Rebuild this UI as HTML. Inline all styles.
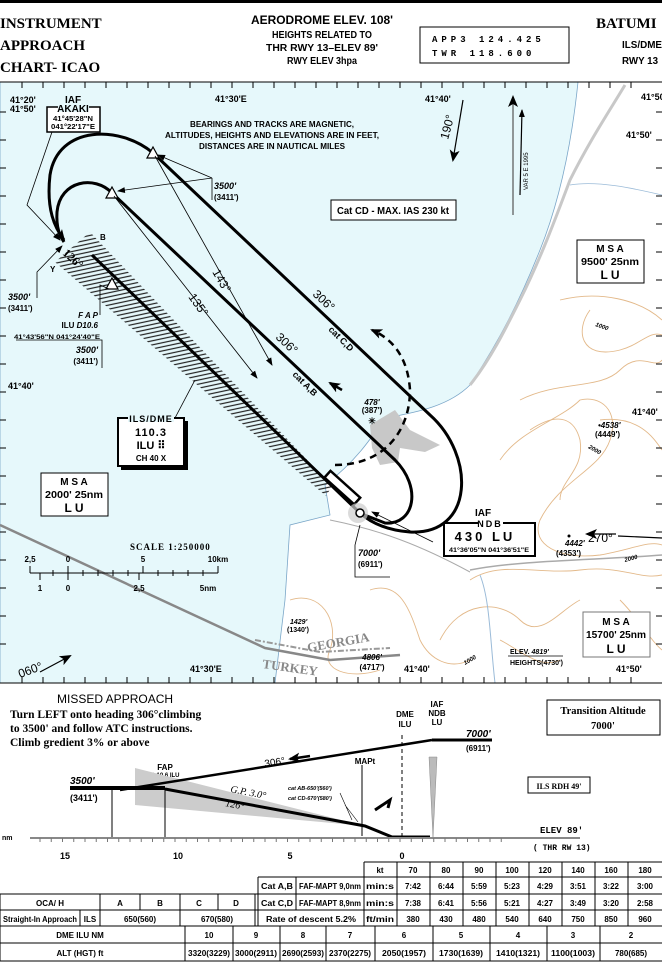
<!DOCTYPE html>
<html><head><meta charset="utf-8"><style>
html,body{margin:0;padding:0;background:#fff}
svg{display:block}
.n{font-family:"Liberation Sans Narrow","Liberation Sans",sans-serif;font-weight:bold}
.s{font-family:"Liberation Serif",serif;font-weight:bold}
.m{font-family:"Liberation Mono",monospace;font-weight:bold}
</style></head><body>
<svg width="662" height="962" viewBox="0 0 662 962" xmlns="http://www.w3.org/2000/svg">
<defs>
<pattern id="h" width="4" height="4" patternUnits="userSpaceOnUse" patternTransform="rotate(-12)">
<line x1="0" y1="1" x2="4" y2="1" stroke="#222" stroke-width="1.2"/></pattern>
<marker id="a" markerWidth="8" markerHeight="8" refX="7" refY="4" orient="auto" markerUnits="userSpaceOnUse"><path d="M0,1L8,4L0,7z" fill="#000"/></marker>
<marker id="ab" markerWidth="12" markerHeight="10" refX="10" refY="5" orient="auto" markerUnits="userSpaceOnUse"><path d="M0,0L12,5L0,10L3,5z" fill="#000"/></marker>
</defs>
<!-- header -->
<rect x="0" y="0" width="662" height="3" fill="#000"/>
<text class="s" x="0" y="28" font-size="15">INSTRUMENT</text>
<text class="s" x="0" y="50" font-size="15">APPROACH</text>
<text class="s" x="0" y="72" font-size="15">CHART- ICAO</text>
<text class="n" x="322" y="24" font-size="12" text-anchor="middle" textLength="142" lengthAdjust="spacingAndGlyphs">AERODROME ELEV. 108'</text>
<text class="n" x="322" y="38" font-size="10" text-anchor="middle" textLength="100" lengthAdjust="spacingAndGlyphs">HEIGHTS RELATED TO</text>
<text class="n" x="322" y="51" font-size="10" text-anchor="middle" textLength="112" lengthAdjust="spacingAndGlyphs">THR RWY 13–ELEV 89'</text>
<text class="n" x="322" y="64" font-size="10" text-anchor="middle" textLength="70" lengthAdjust="spacingAndGlyphs">RWY ELEV 3hpa</text>
<rect x="420" y="27" width="149" height="36" fill="none" stroke="#000"/>
<text class="m" x="432" y="42" font-size="9" letter-spacing="4">APP3  124.425</text>
<text class="m" x="432" y="56" font-size="9" letter-spacing="4">TWR   118.600</text>
<text class="s" x="596" y="28" font-size="15">BATUMI</text>
<text class="n" x="622" y="48" font-size="10" textLength="40" lengthAdjust="spacingAndGlyphs">ILS/DME</text>
<text class="n" x="622" y="64" font-size="10" textLength="36" lengthAdjust="spacingAndGlyphs">RWY 13</text>
<!-- map -->
<rect x="0" y="82" width="662" height="601" fill="#fff"/>
<path d="M0,82 L578,82 C572,140 560,200 540,250 C520,300 500,340 470,385 C450,405 420,412 385,418 C370,440 355,462 325,485 L330,515 L290,525 L285,600 L275,683 L0,683 Z" fill="#e6f8fb" stroke="#7aa6c8" stroke-width="0.8"/>
<!-- contours -->
<g fill="none" stroke="#e3b98a" stroke-width="0.9">
<path d="M560,300 C600,290 640,300 662,320"/>
<path d="M590,310 C575,330 580,360 620,350 C640,345 650,330 662,335"/>
<path d="M520,400 C560,380 600,390 620,370 C640,350 655,370 662,360"/>
<path d="M500,460 C520,430 560,420 580,400 C600,395 620,410 610,440 C600,470 560,480 540,520 C530,545 560,560 600,555 C630,550 650,540 662,545"/>
<path d="M530,430 C560,410 575,420 580,440 C585,470 560,480 560,500"/>
<path d="M600,420 C640,415 655,440 662,450"/>
<path d="M470,580 C500,560 540,575 580,570 C620,565 640,580 662,575"/>
<path d="M440,640 C460,600 500,600 520,620 C540,640 560,610 580,600"/>
<path d="M290,600 C320,590 340,620 330,650 C320,670 350,680 380,670"/>
<path d="M370,590 C400,580 410,610 420,640 C430,660 450,670 470,660"/>
<path d="M500,640 C520,650 540,670 560,660"/>
<path d="M620,600 C640,620 650,640 662,650"/>
</g>
<!-- rivers/roads -->
<path d="M470,570 C520,560 600,560 662,555" fill="none" stroke="#aaa" stroke-width="1.5"/>
<path d="M480,575 C490,600 490,640 495,683" fill="none" stroke="#9bbbd8" stroke-width="1"/>
<path d="M330,520 C380,530 420,545 470,572" fill="none" stroke="#aaa" stroke-width="1"/>
<path d="M625,85 C610,110 590,140 570,180 C555,220 540,260 520,300 C505,330 490,360 470,385" fill="none" stroke="#c8c8c8" stroke-width="3"/>
<path d="M570,185 C600,180 640,190 662,195" fill="none" stroke="#9bbbd8" stroke-width="0.8"/>
<!-- airport -->
<path d="M370,425 L395,410 L410,430 L440,445 L425,452 L400,448 L398,462 L380,465 L372,448 Z" fill="#c8c8c8"/>
<!-- border -->
<path d="M0,525 L265,648 L330,660 L400,655" fill="none" stroke="#888" stroke-width="2.5"/>
<path d="M255,640 L320,652 L390,648" fill="none" stroke="#999" stroke-width="2" stroke-dasharray="6,2,2,2"/>
<text class="s" x="308" y="652" font-size="13" fill="#888" transform="rotate(-10 308 652)">GEORGIA</text>
<text class="s" x="262" y="668" font-size="13" fill="#888" transform="rotate(8 262 668)">TURKEY</text>
<!-- map border ticks -->
<g stroke="#000" stroke-width="1">
<line x1="0" y1="82" x2="662" y2="82"/>
<line x1="0" y1="683" x2="662" y2="683"/>
<path d="M22,82v6m21,-6v6m21,-6v6m21,-6v6m21,-6v6m21,-6v6m21,-6v6m21,-6v6m21,-6v6m21,-6v6m21,-6v6m21,-6v6m21,-6v6m21,-6v6m21,-6v6m21,-6v6m21,-6v6m21,-6v6m21,-6v6m21,-6v6m21,-6v6m21,-6v6m21,-6v6m21,-6v6m21,-6v6m21,-6v6m21,-6v6m21,-6v6m21,-6v6m21,-6v6"/>
<path d="M22,683v-6m21,6v-6m21,6v-6m21,6v-6m21,6v-6m21,6v-6m21,6v-6m21,6v-6m21,6v-6m21,6v-6m21,6v-6m21,6v-6m21,6v-6m21,6v-6m21,6v-6m21,6v-6m21,6v-6m21,6v-6m21,6v-6m21,6v-6m21,6v-6m21,6v-6m21,6v-6m21,6v-6m21,6v-6m21,6v-6m21,6v-6m21,6v-6m21,6v-6m21,6v-6"/>
<path d="M0,112h6m-6,28h6m-6,28h6m-6,28h6m-6,28h6m-6,28h6m-6,28h6m-6,28h6m-6,28h6m-6,28h6m-6,28h6m-6,28h6m-6,28h6m-6,28h6m-6,28h6m-6,28h6m-6,28h6m-6,28h6m-6,28h6m-6,28h6"/>
<path d="M662,112h-6m6,28h-6m6,28h-6m6,28h-6m6,28h-6m6,28h-6m6,28h-6m6,28h-6m6,28h-6m6,28h-6m6,28h-6m6,28h-6m6,28h-6m6,28h-6m6,28h-6m6,28h-6m6,28h-6m6,28h-6m6,28h-6m6,28h-6"/>
</g>
<g class="n" font-size="9">
<text x="10" y="103">41°20'</text><text x="10" y="112">41°50'</text>
<text x="215" y="102">41°30'E</text><text x="425" y="102">41°40'</text>
<text x="641" y="100">41°50</text><text x="626" y="138">41°50'</text>
<text x="8" y="389">41°40'</text><text x="632" y="415">41°40'</text>
<text x="190" y="672">41°30'E</text><text x="404" y="672">41°40'</text><text x="616" y="672">41°50'</text>
</g>
<!-- hatched band -->
<polygon points="90,232 332,486 326,496 55,262" fill="url(#h)"/>
<text class="n" x="100" y="240" font-size="8">B</text>
<text class="n" x="50" y="272" font-size="8">Y</text>
<!-- tracks -->
<g fill="none" stroke="#000" stroke-width="3">
<path d="M360,513 L92,255"/>
<path d="M153,153 L430,415 C475,455 475,535 410,532 C385,530 370,522 360,513"/>
<path d="M112,193 L395,460 C422,487 415,525 385,523 L362,514"/>
<path d="M153,153 C120,125 58,125 50,175 C46,210 55,228 64,240" marker-end="url(#ab)"/>
<path d="M112,193 C95,175 60,180 57,212 C56,228 60,236 64,242"/>
<path d="M335,465 C385,465 410,430 410,390 C408,360 395,340 372,330" stroke-width="2.5" stroke-dasharray="7,5" marker-end="url(#ab)"/>
<path d="M342,390 L330,383" stroke-width="2.5" marker-end="url(#ab)"/>
</g>
<rect x="322" y="483" width="40" height="9" fill="#fff" stroke="#000" stroke-width="2.5" transform="rotate(42 342 488)"/>
<circle cx="358" cy="513" r="10" fill="#ccc" opacity="0.7"/>
<circle cx="360" cy="513" r="4" fill="#fff" stroke="#000" stroke-width="1.5"/>
<!-- triangles -->
<g fill="#fff" stroke="#000" stroke-width="1.2">
<path d="M153,147 L159,158 L147,158 Z"/><path d="M112,187 L118,198 L106,198 Z"/><path d="M112,278 L118,289 L106,289 Z"/>
</g>
<!-- thin lines -->
<g stroke="#000" stroke-width="0.8" fill="none">
<path d="M155,156 L272,365" marker-end="url(#a)"/>
<path d="M114,196 L257,378" marker-end="url(#a)"/>
<path d="M212,178 L158,155" marker-end="url(#a)"/>
<path d="M212,178 L118,191" marker-end="url(#a)"/>
<path d="M212,178 V200"/>
<path d="M52,132 L27,205 L60,240" marker-end="url(#a)"/>
<path d="M37,298 V272 L62,246" marker-end="url(#a)"/>
<path d="M100,315 V285 L109,289"/>
<path d="M16,340 H102 V368"/>
<path d="M175,418 L195,380"/>
<path d="M433,542 L372,512" marker-end="url(#a)"/>
<path d="M360,525 L355,545 V577 H390"/>
</g>
<!-- labels map -->
<rect x="47" y="107" width="53" height="25" fill="#fff" stroke="#000" stroke-width="1.5"/>
<text class="n" x="73" y="103" font-size="10" text-anchor="middle">IAF</text>
<rect x="58" y="104" width="31" height="8" fill="#e6f8fb"/>
<text class="n" x="73" y="112" font-size="10" text-anchor="middle">AKAKI</text>
<text class="n" x="73" y="121" font-size="7" text-anchor="middle" textLength="40" lengthAdjust="spacingAndGlyphs">41°45'28"N</text>
<text class="n" x="73" y="129" font-size="7" text-anchor="middle" textLength="44" lengthAdjust="spacingAndGlyphs">041°22'17"E</text>
<g class="n" font-size="8" text-anchor="middle">
<text x="272" y="127" textLength="164" lengthAdjust="spacingAndGlyphs">BEARINGS AND TRACKS ARE MAGNETIC,</text>
<text x="272" y="138" textLength="214" lengthAdjust="spacingAndGlyphs">ALTITUDES, HEIGHTS AND ELEVATIONS ARE IN FEET,</text>
<text x="272" y="149" textLength="146" lengthAdjust="spacingAndGlyphs">DISTANCES ARE IN NAUTICAL MILES</text>
</g>
<text class="n" x="214" y="189" font-size="9" font-style="italic">3500'</text>
<text class="n" x="214" y="200" font-size="8">(3411')</text>
<text class="n" x="8" y="300" font-size="9" font-style="italic">3500'</text>
<text class="n" x="8" y="311" font-size="8">(3411')</text>
<text class="n" x="98" y="318" font-size="8" text-anchor="end" font-style="italic">F A P</text>
<text class="n" x="98" y="328" font-size="8" text-anchor="end">ILU <tspan font-style="italic">D10.6</tspan></text>
<text class="n" x="100" y="339" font-size="6" text-anchor="end" textLength="86" lengthAdjust="spacingAndGlyphs">41°43'56"N 041°24'40"E</text>
<text class="n" x="98" y="353" font-size="9" text-anchor="end" font-style="italic">3500'</text>
<text class="n" x="98" y="364" font-size="8" text-anchor="end">(3411')</text>
<text class="s" x="62" y="254" font-size="12" transform="rotate(42 62 254)" font-weight="normal">126°</text>
<g font-family="Liberation Sans" font-size="12">
<text x="212" y="272" transform="rotate(60 212 272)">143°</text>
<text x="188" y="297" transform="rotate(55 188 297)">135°</text>
<text x="312" y="295" transform="rotate(43 312 295)">306°</text>
<text x="275" y="338" transform="rotate(43 275 338)">306°</text>
<text x="448" y="140" transform="rotate(-75 448 140)">190°</text>
<text x="588" y="542">270°</text>
<text x="20" y="678" transform="rotate(-20 20 678)">060°</text>
</g>
<text class="n" x="328" y="330" font-size="9" transform="rotate(45 328 330)">cat C,D</text>
<text class="n" x="292" y="375" font-size="9" transform="rotate(45 292 375)">cat A,B</text>
<g stroke="#000" fill="none" stroke-width="1.2">
<path d="M463,100 L453,160" marker-end="url(#ab)"/>
<path d="M513,215 L513,97" marker-end="url(#ab)" stroke="#555"/>
<path d="M520,195 L522,110" marker-end="url(#a)"/>
<path d="M662,538 L618,536"/>
<path d="M616,534 L587,534" marker-end="url(#ab)"/>
<path d="M40,672 L70,656" marker-end="url(#ab)"/>
</g>
<text x="528" y="190" font-family="Liberation Sans" font-size="6" transform="rotate(-90 528 190)">VAR 5 E 1995</text>
<rect x="331" y="200" width="125" height="20" fill="#fff" stroke="#000"/>
<text class="n" x="393" y="214" font-size="10" text-anchor="middle" textLength="112" lengthAdjust="spacingAndGlyphs">Cat CD - MAX. IAS 230 kt</text>
<rect x="577" y="240" width="67" height="43" fill="#fff" stroke="#000"/>
<text class="n" x="610" y="252" font-size="10" text-anchor="middle">M S A</text>
<text class="n" x="610" y="265" font-size="10" text-anchor="middle" textLength="58" lengthAdjust="spacingAndGlyphs">9500'  25nm</text>
<text class="n" x="610" y="279" font-size="12" text-anchor="middle">L U</text>
<text class="n" x="595" y="326" font-size="6" font-style="italic" transform="rotate(20 595 326)">1000</text>
<text class="n" x="588" y="448" font-size="6" font-style="italic" transform="rotate(30 588 448)">2000</text>
<text class="n" x="625" y="562" font-size="6" font-style="italic" transform="rotate(-15 625 562)">2000</text>
<text class="n" x="465" y="665" font-size="6" font-style="italic" transform="rotate(-30 465 665)">1000</text>
<text class="n" x="598" y="428" font-size="8" font-style="italic">•4538'</text>
<text class="n" x="595" y="437" font-size="8">(4449')</text>
<text class="n" x="565" y="546" font-size="8" font-style="italic">4442'</text>
<text class="n" x="556" y="556" font-size="8">(4353')</text>
<circle cx="569" cy="536" r="1.5"/>
<text class="n" x="372" y="405" font-size="8" font-style="italic" text-anchor="middle">478'</text>
<text class="n" x="372" y="413" font-size="8" text-anchor="middle">(387')</text>
<text class="n" x="372" y="424" font-size="9" text-anchor="middle">✳</text>
<text class="n" x="358" y="556" font-size="9" font-style="italic">7000'</text>
<text class="n" x="358" y="567" font-size="8">(6911')</text>
<text class="n" x="483" y="516" font-size="10" text-anchor="middle">IAF</text>
<rect x="444" y="523" width="91" height="33" fill="#fff" stroke="#000" stroke-width="2"/>
<rect x="478" y="519" width="25" height="8" fill="#fff"/>
<text class="n" x="490" y="527" font-size="9" text-anchor="middle" letter-spacing="2">NDB</text>
<text class="n" x="485" y="541" font-size="13" text-anchor="middle" letter-spacing="3">430 LU</text>
<text class="n" x="489" y="552" font-size="6" text-anchor="middle" textLength="80" lengthAdjust="spacingAndGlyphs">41°36'05"N 041°36'51"E</text>
<rect x="583" y="612" width="67" height="45" fill="#fff" stroke="#777"/>
<text class="n" x="616" y="625" font-size="10" text-anchor="middle">M S A</text>
<text class="n" x="616" y="638" font-size="10" text-anchor="middle" textLength="60" lengthAdjust="spacingAndGlyphs">15700'  25nm</text>
<text class="n" x="616" y="653" font-size="12" text-anchor="middle">L U</text>
<text class="n" x="510" y="654" font-size="7">ELEV. <tspan font-style="italic">4819'</tspan></text>
<line x1="508" y1="656" x2="563" y2="656" stroke="#000" stroke-width="0.7"/>
<text class="n" x="510" y="665" font-size="7">HEIGHTS(4730')</text>
<text class="n" x="372" y="660" font-size="8" font-style="italic" text-anchor="middle">4806'</text>
<text class="n" x="372" y="670" font-size="8" text-anchor="middle">(4717')</text>
<text class="n" x="290" y="624" font-size="7" font-style="italic">1429'</text>
<text class="n" x="287" y="632" font-size="7">(1340')</text>
<!-- ILS box -->
<rect x="121" y="421" width="67" height="49" fill="#000"/>
<rect x="118" y="418" width="66" height="48" fill="#fff" stroke="#000" stroke-width="2"/>
<rect x="128" y="414" width="46" height="8" fill="#e6f8fb"/>
<text class="n" x="151" y="422" font-size="9" text-anchor="middle" letter-spacing="1">ILS/DME</text>
<text class="n" x="151" y="436" font-size="11" text-anchor="middle" letter-spacing="1">110.3</text>
<text class="n" x="151" y="449" font-size="11" text-anchor="middle">ILU ⠿</text>
<text class="n" x="151" y="461" font-size="8" text-anchor="middle">CH 40 X</text>
<rect x="41" y="473" width="67" height="43" fill="#fff" stroke="#000"/>
<text class="n" x="74" y="485" font-size="10" text-anchor="middle">M S A</text>
<text class="n" x="74" y="498" font-size="10" text-anchor="middle" textLength="58" lengthAdjust="spacingAndGlyphs">2000'  25nm</text>
<text class="n" x="74" y="512" font-size="12" text-anchor="middle">L U</text>
<!-- scale -->
<text class="s" x="130" y="550" font-size="9" font-weight="normal" letter-spacing="1">SCALE 1:250000</text>
<g class="n" font-size="8" text-anchor="middle">
<text x="30" y="562">2,5</text><text x="68" y="562">0</text><text x="143" y="562">5</text><text x="218" y="562">10km</text>
<text x="40" y="591">1</text><text x="68" y="591">0</text><text x="139" y="591">2,5</text><text x="208" y="591">5nm</text>
</g>
<path d="M30,573 H218 M30,566 V573 M68,566 V580 M143,566 V573 M218,566 V573 M40,573 V580 M53,570 V576 M83,570 V576 M98,570 V576 M113,570 V576 M128,570 V576 M158,570 V576 M173,570 V576 M188,570 V576 M203,570 V576 M139,573V580" stroke="#000" fill="none"/>
<!-- profile -->
<text x="57" y="703" font-size="12" style="font-family:'Liberation Sans'">MISSED  APPROACH</text>
<g class="s" font-size="11.5">
<text x="10" y="718">Turn LEFT onto heading 306°climbing</text>
<text x="10" y="732">to 3500' and follow ATC instructions.</text>
<text x="10" y="746">Climb gredient 3% or above</text>
</g>
<rect x="547" y="700" width="113" height="35" fill="#fff" stroke="#000"/>
<text class="s" x="603" y="714" font-size="10.5" text-anchor="middle">Transition Altitude</text>
<text class="s" x="603" y="729" font-size="10.5" text-anchor="middle">7000'</text>
<text class="n" x="405" y="717" font-size="8" text-anchor="middle">DME</text>
<text class="n" x="405" y="727" font-size="8" text-anchor="middle">ILU</text>
<text class="n" x="437" y="707" font-size="8" text-anchor="middle">IAF</text>
<text class="n" x="437" y="716" font-size="8" text-anchor="middle">NDB</text>
<text class="n" x="437" y="725" font-size="8" text-anchor="middle">LU</text>
<text class="n" x="466" y="737" font-size="10" font-style="italic">7000'</text>
<text class="n" x="466" y="751" font-size="8" font-weight="normal">(6911')</text>
<text class="n" x="70" y="784" font-size="10" font-style="italic">3500'</text>
<text class="n" x="70" y="801" font-size="9">(3411')</text>
<text class="n" x="165" y="770" font-size="8" text-anchor="middle">FAP</text>
<text class="n" x="165" y="777" font-size="6" text-anchor="middle">D 10.6 ILU</text>
<text class="n" x="365" y="764" font-size="8" text-anchor="middle">MAPt</text>
<polygon points="135,768 365,826 135,805" fill="#ccc"/>
<line x1="402" y1="735" x2="402" y2="838" stroke="#000" stroke-dasharray="4,3"/>
<polygon points="429,757 437,757 433,838" fill="#bbb" stroke="#888" stroke-width="0.5"/>
<g stroke="#000" fill="none">
<path d="M112,788V838M165,788V838M362,765V836" stroke-width="1"/>
<path d="M70,788H165" stroke-width="4"/>
<path d="M432,740H492" stroke-width="3"/>
<path d="M120,790 L432,740" stroke-width="2.5"/>
<path d="M310,756 L290,759" stroke-width="2.5" marker-end="url(#ab)"/>
<path d="M165,789 L365,826 L392,837 H430" stroke-width="3"/>
<path d="M375,810 L390,800 L388,808" stroke-width="3"/>
<path d="M352,820 L340,793 M358,822 L345,805" stroke-width="0.6"/>
<path d="M30,838H580" stroke="#888" stroke-width="2"/>
</g>
<path d="M40,838v4m11.25,-4v4m11.25,-4v4m11.25,-4v4m11.25,-4v4m11.25,-4v4m11.25,-4v4m11.25,-4v4m11.25,-4v4m11.25,-4v4m11.25,-4v4m11.25,-4v4m11.25,-4v4m11.25,-4v4m11.25,-4v4m11.25,-4v4m11.25,-4v4m11.25,-4v4m11.25,-4v4m11.25,-4v4m11.25,-4v4m11.25,-4v4m11.25,-4v4m11.25,-4v4m11.25,-4v4m11.25,-4v4m11.25,-4v4m11.25,-4v4m11.25,-4v4m11.25,-4v4m11.25,-4v4m11.25,-4v4m11.25,-4v4m11.25,-4v4m11.25,-4v4m11.25,-4v4m11.25,-4v4m11.25,-4v4m11.25,-4v4m11.25,-4v4m11.25,-4v4m11.25,-4v4" stroke="#777" fill="none"/>
<text x="265" y="767" font-family="Liberation Sans" font-size="10" transform="rotate(-9 265 767)">306°</text>
<text x="230" y="792" font-family="Liberation Serif" font-style="italic" font-size="10" transform="rotate(11 230 792)">G.P. 3.0°</text>
<text x="225" y="806" font-family="Liberation Serif" font-style="italic" font-size="10" transform="rotate(11 225 806)">126°</text>
<text class="n" x="288" y="790" font-size="5.5" font-style="italic">cat AB-650'(560')</text>
<text class="n" x="288" y="800" font-size="5.5" font-style="italic">cat CD-670'(580')</text>
<rect x="528" y="777" width="62" height="16" fill="#fff" stroke="#000"/>
<text class="s" x="559" y="789" font-size="8" text-anchor="middle">ILS RDH 49'</text>
<text class="m" x="540" y="833" font-size="9" font-weight="normal">ELEV 89'</text>
<text class="m" x="533" y="850" font-size="8" font-weight="normal">( THR RW 13)</text>
<text class="n" x="2" y="840" font-size="7">nm</text>
<g class="n" font-size="9" text-anchor="middle">
<text x="65" y="859">15</text><text x="178" y="859">10</text><text x="290" y="859">5</text><text x="402" y="859">0</text>
</g>
<!-- tables -->
<g stroke="#000" stroke-width="1" fill="none">
<path d="M364,862H662M258,877H662M0,894H662M0,910H662M0,926H662M0,943H662M0,961H662"/>
<path d="M364,862V926M397,862V926M430,862V926M463,862V926M496,862V926M529,862V926M562,862V926M595,862V926M628,862V926"/>
<path d="M258,877V926M296,877V910M0,894V943M100,894V926M140,894V910M180,894V926M218,894V910M80,910V926M255,894V926"/>
<path d="M0,943V961M185,926V961M233,926V961M280,926V961M326,926V961M375,926V961M433,926V961M490,926V961M547,926V961M600,926V961"/>
</g>
<g class="n" font-size="8" text-anchor="middle">
<text x="380" y="873">kt</text><text x="413" y="873">70</text><text x="446" y="873">80</text><text x="479" y="873">90</text><text x="512" y="873">100</text><text x="545" y="873">120</text><text x="578" y="873">140</text><text x="611" y="873">160</text><text x="645" y="873">180</text>
<text x="277" y="889" textLength="32" lengthAdjust="spacingAndGlyphs">Cat A,B</text><text x="330" y="889" textLength="62" lengthAdjust="spacingAndGlyphs">FAF-MAPT 9,0nm</text>
<text x="380" y="889" textLength="28" lengthAdjust="spacingAndGlyphs">min:s</text><text x="413" y="889">7:42</text><text x="446" y="889">6:44</text><text x="479" y="889">5:59</text><text x="512" y="889">5:23</text><text x="545" y="889">4:29</text><text x="578" y="889">3:51</text><text x="611" y="889">3:22</text><text x="645" y="889">3:00</text>
<text x="50" y="906">OCA/ H</text><text x="120" y="906">A</text><text x="160" y="906">B</text><text x="199" y="906">C</text><text x="236" y="906">D</text>
<text x="277" y="906" textLength="32" lengthAdjust="spacingAndGlyphs">Cat C,D</text><text x="330" y="906" textLength="62" lengthAdjust="spacingAndGlyphs">FAF-MAPT 8,9nm</text>
<text x="380" y="906" textLength="28" lengthAdjust="spacingAndGlyphs">min:s</text><text x="413" y="906">7:38</text><text x="446" y="906">6:41</text><text x="479" y="906">5:56</text><text x="512" y="906">5:21</text><text x="545" y="906">4:27</text><text x="578" y="906">3:49</text><text x="611" y="906">3:20</text><text x="645" y="906">2:58</text>
<text x="40" y="922" textLength="74" lengthAdjust="spacingAndGlyphs">Straight-In Approach</text><text x="90" y="922">ILS</text><text x="140" y="922">650(560)</text><text x="217" y="922">670(580)</text>
<text x="311" y="922" textLength="90" lengthAdjust="spacingAndGlyphs">Rate of descent 5.2%</text>
<text x="380" y="922" textLength="28" lengthAdjust="spacingAndGlyphs">ft/min</text><text x="413" y="922">380</text><text x="446" y="922">430</text><text x="479" y="922">480</text><text x="512" y="922">540</text><text x="545" y="922">640</text><text x="578" y="922">750</text><text x="611" y="922">850</text><text x="645" y="922">960</text>
<text x="80" y="938">DME ILU NM</text><text x="209" y="938">10</text><text x="256" y="938">9</text><text x="303" y="938">8</text><text x="350" y="938">7</text><text x="404" y="938">6</text><text x="461" y="938">5</text><text x="518" y="938">4</text><text x="573" y="938">3</text><text x="631" y="938">2</text>
<text x="80" y="956">ALT (HGT) ft</text>
<text x="209" y="956" textLength="42" lengthAdjust="spacingAndGlyphs">3320(3229)</text><text x="256" y="956" textLength="42" lengthAdjust="spacingAndGlyphs">3000(2911)</text><text x="303" y="956" textLength="42" lengthAdjust="spacingAndGlyphs">2690(2593)</text><text x="350" y="956" textLength="42" lengthAdjust="spacingAndGlyphs">2370(2275)</text><text x="404" y="956" textLength="44" lengthAdjust="spacingAndGlyphs">2050(1957)</text><text x="461" y="956" textLength="44" lengthAdjust="spacingAndGlyphs">1730(1639)</text><text x="518" y="956" textLength="44" lengthAdjust="spacingAndGlyphs">1410(1321)</text><text x="573" y="956" textLength="44" lengthAdjust="spacingAndGlyphs">1100(1003)</text><text x="631" y="956">780(685)</text>
</g>
</svg>
</body></html>
